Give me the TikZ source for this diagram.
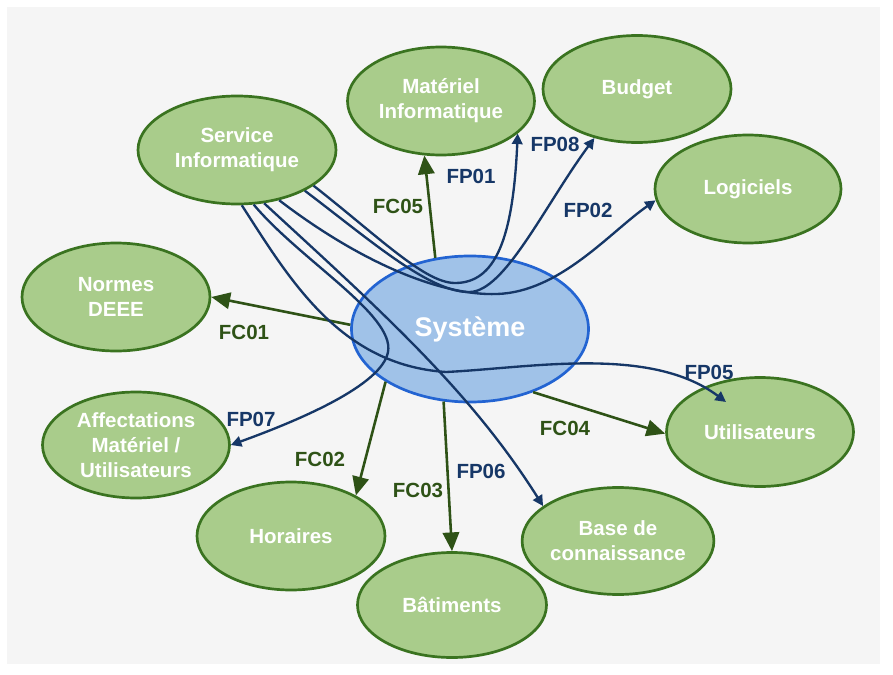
\documentclass[tikz,border=0pt]{standalone}
\usepackage{fontspec}
\setmainfont{Liberation Sans}
\usetikzlibrary{shapes.geometric,arrows.meta,calc}
\definecolor{ovfill}{RGB}{169,204,139}
\definecolor{ovline}{RGB}{58,115,32}
\definecolor{sysfill}{RGB}{160,194,232}
\definecolor{sysline}{RGB}{35,100,210}
\definecolor{fcgreen}{RGB}{46,82,22}
\definecolor{fpblue}{RGB}{22,55,103}
\definecolor{bgcheck}{RGB}{245,245,245}
\tikzset{
  ov/.style 2 args={ellipse, draw=ovline, fill=ovfill, line width=2.3pt, inner sep=0pt,
    minimum width=#1*0.03cm, minimum height=#2*0.03cm, text=white, align=center,
    font=\fontsize{17.5}{21.5}\selectfont\bfseries},
  fc/.style={draw=fcgreen, line width=2.2pt, -{Triangle[length=16pt,width=14pt]}},
  fp/.style={draw=fpblue, line width=2pt, -{Triangle[length=9pt,width=9pt]}},
  fclab/.style={text=fcgreen, inner sep=0pt, font=\fontsize{17.5}{21}\selectfont\bfseries},
  fplab/.style={text=fpblue, inner sep=0pt, font=\fontsize{17.5}{21}\selectfont\bfseries}
}
\begin{document}
\begin{tikzpicture}[x=0.03cm,y=-0.03cm]
      \useasboundingbox (0,0) rectangle (893,675);
      \fill[bgcheck] (7,7) rectangle (880,664);

      \node[ov={198}{108}] (svc) at (237,150) {Service\\Informatique};
      \node[ov={187}{108}] (mat) at (441,101) {Matériel\\Informatique};
      \node[ov={188}{107}] (bud) at (637,89) {Budget};
      \node[ov={186}{108}] (log) at (748,189) {Logiciels};
      \node[ov={188}{108}] (nor) at (116,297) {Normes\\DEEE};
      \node[ov={187}{109}] (uti) at (760,432) {Utilisateurs};
      \node[ov={187}{106}] (aff) at (136,445) {Affectations\\Matériel /\\Utilisateurs};
      \node[ov={188}{108}] (hor) at (291,536) {Horaires};
      \node[ov={189}{105}] (bat) at (452,605) {Bâtiments};
      \node[ov={186}{107}] (bdc) at (618,541) {Base de\\connaissance};
      \node[ov={237}{146}, draw=sysline, fill=sysfill, font=\fontsize{23}{27}\selectfont\bfseries] (sys) at (470,329) {Système};

      \draw[fc] (sys.116) -- (mat.253);
      \draw[fc] (sys.178) -- (nor.0);
      \draw[fc] (sys.212) -- (hor.32);
      \draw[fc] (sys.250) -- (bat.90);
      \draw[fc] (sys.-45) -- (uti.181);

      \draw[fp] (svc.-25) .. controls (380,238) and (425,283) .. (455,283) .. controls (495,283) and (513,240) .. (mat.-23);
      \draw[fp] (svc.-31) .. controls (370,240) and (430,293) .. (470,292) .. controls (505,291) and (545,205) .. (bud.229);
      \draw[fp] (svc.-50) .. controls (360,262) and (440,296) .. (497,294) .. controls (560,292) and (610,232) .. (log.187);
      \draw[fp] (svc.-85) .. controls (290,280) and (340,365) .. (446,372) .. controls (530,368) and (650,345) .. ($(uti.center)+(-34,-30)$);
      \draw[fp] (svc.-73) .. controls (300,260) and (395,315) .. (388,352) .. controls (382,385) and (300,420) .. (aff.0);
      \draw[fp] (svc.-63) .. controls (380,310) and (470,390) .. (bdc.155);

      \node[fclab] (lfc05) at (398,206) {FC05};
      \node[fclab] (lfc01) at (244,332) {FC01};
      \node[fclab] (lfc02) at (320,459) {FC02};
      \node[fclab] (lfc03) at (418,490) {FC03};
      \node[fclab] (lfc04) at (565,428) {FC04};
      \node[fplab] (lfp01) at (471,176) {FP01};
      \node[fplab] (lfp08) at (555,144) {FP08};
      \node[fplab] (lfp02) at (588,210) {FP02};
      \node[fplab] (lfp05) at (709,372) {FP05};
      \node[fplab] (lfp07) at (251,419) {FP07};
      \node[fplab] (lfp06) at (481,471) {FP06};
    \end{tikzpicture}
\end{document}
